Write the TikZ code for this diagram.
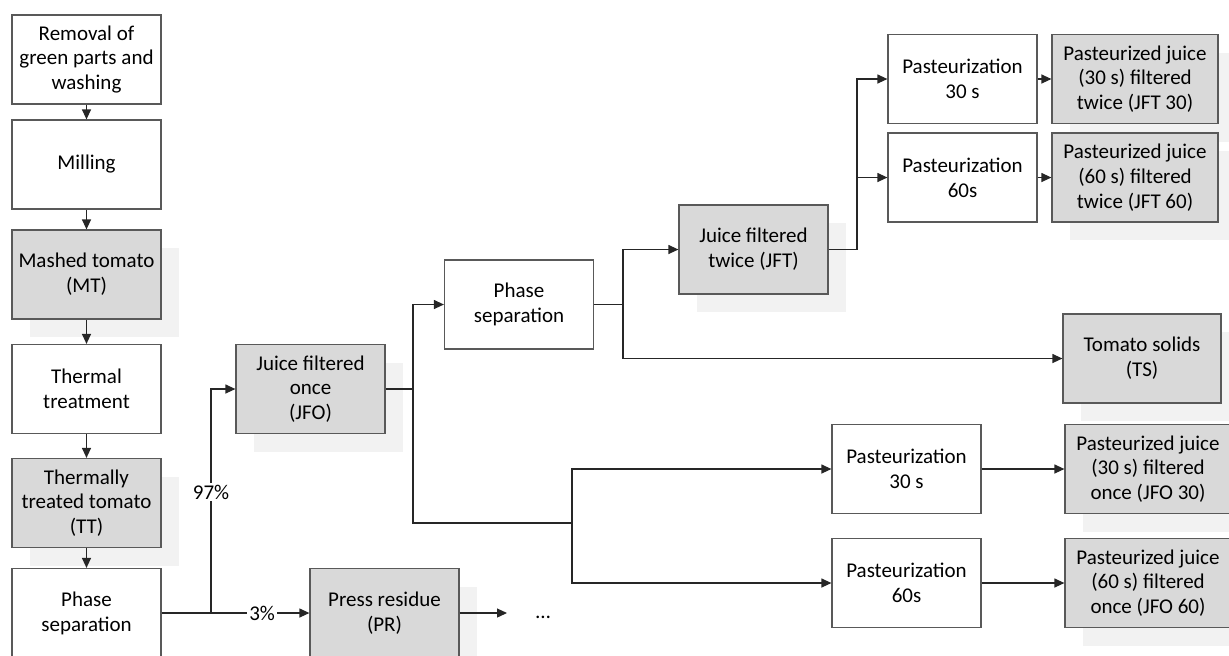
\documentclass[tikz,border=0pt]{standalone}
\usepackage{fontspec}
\setmainfont{Carlito}
\usetikzlibrary{arrows.meta,shadows}
\definecolor{boxgray}{HTML}{D9D9D9}
\definecolor{shadowgray}{HTML}{F2F2F2}
\definecolor{edgegray}{HTML}{595959}

\begin{document}
\begin{tikzpicture}[x=0.5pt, y=-0.5pt,
  font=\fontsize{10.5}{12.4}\selectfont,
  stage/.style={draw=edgegray, line width=0.6pt, fill=white, align=center,
    inner sep=0pt, minimum width=74.5pt, minimum height=44.5pt},
  product/.style={stage, fill=boxgray,
    general shadow={fill=shadowgray, shadow xshift=9pt, shadow yshift=-9pt}},
  link/.style={draw=black!85, line width=0.6pt},
  flow/.style={link, -{Triangle[length=5pt,width=4.5pt]}},
  pct/.style={fill=white, inner sep=1pt}]
\useasboundingbox (0,0) rectangle (1229,655);
\clip (0,0) rectangle (1229,655);

% main line
\node[stage] (wash) at (86.5,59.5) {Removal of\\green parts and\\washing};
\node[stage] (mill) at (86.5,164.5) {Milling};
\node[product] (mt) at (86.5,274.5) {Mashed tomato\\(MT)};
\node[stage] (heat) at (86.5,389) {Thermal\\treatment};
\node[product] (tt) at (86.5,503) {Thermally\\treated tomato\\(TT)};
\node[stage] (sep1) at (86.5,613) {Phase\\separation};

\node[product] (jfo) at (310.5,389) {Juice filtered\\once\\(JFO)};
\node[product] (pr) at (384.5,613) {Press residue\\(PR)};
\node[anchor=base] (dots) at (543,618) {…};
\coordinate (prout) at (507,613);

% second filtration
\node[stage] (sep2) at (519,304.5) {Phase\\separation};
\node[product] (jft) at (753.5,249.5) {Juice filtered\\twice (JFT)};
\node[product, minimum width=79pt] (ts) at (1142,358.5) {Tomato solids\\(TS)};

\node[stage] (past30a) at (962.5,79) {Pasteurization\\30 s};
\node[stage] (past60a) at (962.5,177.5) {Pasteurization\\60s};
\node[product, minimum width=83pt] (jft30) at (1135,79)
  {Pasteurized juice\\(30 s) filtered\\twice (JFT 30)};
\node[product, minimum width=83pt] (jft60) at (1135,177.5)
  {Pasteurized juice\\(60 s) filtered\\twice (JFT 60)};

\node[stage] (past30b) at (906.5,469) {Pasteurization\\30 s};
\node[stage] (past60b) at (906.5,583) {Pasteurization\\60s};
\node[product, minimum width=83pt] (jfo30) at (1148,469)
  {Pasteurized juice\\(30 s) filtered\\once (JFO 30)};
\node[product, minimum width=83pt] (jfo60) at (1148,583)
  {Pasteurized juice\\(60 s) filtered\\once (JFO 60)};

% connectors
\foreach \a/\b in {wash/mill, mill/mt, mt/heat, heat/tt, tt/sep1}
  \draw[flow] (\a) -- (\b);

\coordinate (fork1) at (211,613);
\draw[flow] (sep1) -- node[pct, pos=0.68] {3\%} (pr);
\draw[flow] (fork1) -- node[pct, pos=0.54] {97\%} (fork1 |- jfo) -- (jfo);
\draw[flow] (pr) -- (prout);

\coordinate (fork2) at (413,389);
\coordinate (fork3) at (572,523);
\draw[link] (jfo) -- (fork2);
\draw[flow] (fork2) |- (sep2);
\draw[link] (fork2) |- (fork3);
\draw[flow] (fork3) |- (past30b);
\draw[flow] (fork3) |- (past60b);

\coordinate (fork4) at (623,304.5);
\draw[link] (sep2) -- (fork4);
\draw[flow] (fork4) |- (jft);
\draw[flow] (fork4) |- (ts);

\coordinate (fork5) at (857,249.5);
\draw[link] (jft) -- (fork5);
\draw[flow] (fork5) |- (past30a);
\draw[flow] (fork5) |- (past60a);

\foreach \a/\b in {past30a/jft30, past60a/jft60, past30b/jfo30, past60b/jfo60}
  \draw[flow] (\a) -- (\b);

\end{tikzpicture}
\end{document}
